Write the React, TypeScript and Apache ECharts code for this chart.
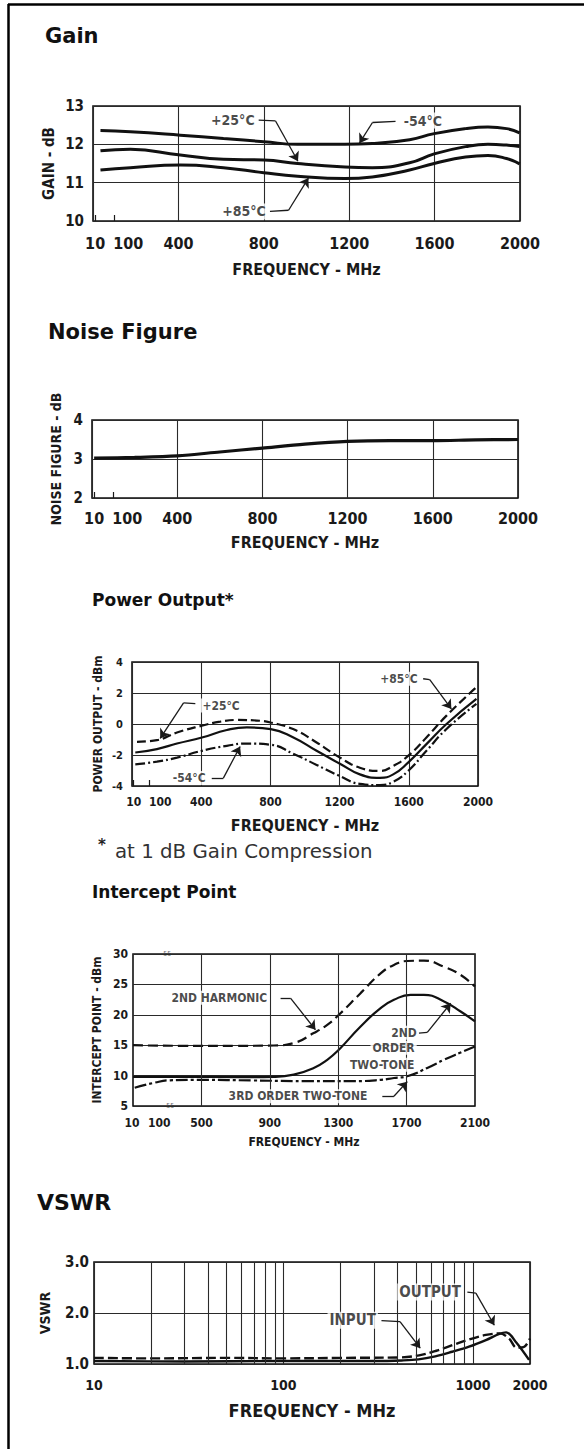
import React, { useEffect, useRef } from "react";
import * as echarts from "echarts";

const W = 584;
const H = 1449;

const FONT_COND =
  "'DejaVu Sans Condensed', 'Liberation Sans Narrow', 'Roboto Condensed', 'DejaVu Sans', sans-serif";
const FONT_TITLE = "'DejaVu Sans', 'Noto Sans', sans-serif";
const INK = "#1a1a1a";
const GRIDC = "#2a2a2a";

type Pt = [number, number];

// ---------------- Gain ----------------
const gainFreq = [35, 175, 409, 611, 800, 958, 1180, 1308, 1483, 1598, 1745, 1850, 1937, 1998];
const gainM54 = [12.36, 12.33, 12.24, 12.15, 12.07, 12.0, 12.0, 12.02, 12.12, 12.28, 12.41, 12.45, 12.41, 12.3];
const gainP25 = [11.83, 11.87, 11.72, 11.61, 11.59, 11.5, 11.41, 11.39, 11.52, 11.75, 11.94, 12.0, 11.98, 11.94];
const gainP85 = [11.33, 11.39, 11.46, 11.39, 11.26, 11.17, 11.11, 11.15, 11.33, 11.5, 11.67, 11.71, 11.63, 11.49];
const freqTicks = [10, 100, 400, 800, 1200, 1600, 2000];
const freqTickLabels = ["10", "100", "400", "800", "1200", "1600", "2000"];
const lowTicks = [10, 100];

// ---------------- Noise figure ----------------
const nfFreq = [10, 200, 400, 600, 800, 1000, 1200, 1400, 1600, 1800, 2000];
const nfVal = [3.02, 3.04, 3.08, 3.18, 3.28, 3.38, 3.45, 3.47, 3.47, 3.49, 3.5];

// ---------------- Power output ----------------
const poDashed: Pt[] = [
  [29, -1.15], [144, -1.04], [260, -0.55], [404, -0.11], [510, 0.15], [606, 0.26], [740, 0.21],
  [802, 0.1], [931, -0.33], [1067, -1.19], [1202, -2.17], [1317, -2.82], [1433, -3.03],
  [1510, -2.7], [1596, -2.06], [1702, -0.87], [1818, 0.54], [1991, 2.38],
];
const poSolid: Pt[] = [
  [19, -1.84], [144, -1.62], [260, -1.26], [404, -0.87], [548, -0.39], [664, -0.22], [802, -0.33],
  [933, -0.87], [1067, -1.73], [1202, -2.56], [1317, -3.25], [1433, -3.47], [1510, -3.25],
  [1596, -2.49], [1702, -1.3], [1818, 0.0], [1991, 1.62],
];
const poDashDot: Pt[] = [
  [19, -2.6], [144, -2.43], [260, -2.17], [404, -1.73], [548, -1.41], [664, -1.26], [802, -1.34],
  [931, -1.91], [1067, -2.64], [1202, -3.36], [1317, -3.86], [1433, -3.94], [1510, -3.73],
  [1596, -3.03], [1702, -1.73], [1818, -0.32], [1991, 1.3],
];

// ---------------- Intercept point ----------------
const ipHarm: Pt[] = [
  [100, 15], [400, 14.9], [700, 14.9], [923, 14.95], [1040, 15.36], [1157, 17.0], [1236, 18.36],
  [1304, 20.0], [1431, 23.56], [1548, 26.8], [1626, 28.2], [1704, 28.85], [1801, 28.9],
  [1919, 27.9], [2016, 26.56], [2100, 24.64],
];
const ip2nd: Pt[] = [
  [100, 9.8], [400, 9.8], [700, 9.75], [923, 9.8], [1040, 10.16], [1157, 11.26], [1236, 12.6],
  [1304, 14.26], [1431, 18.08], [1548, 21.1], [1626, 22.46], [1723, 23.28], [1801, 23.28],
  [1919, 22.2], [2016, 20.54], [2100, 18.9],
];
const ip3rd: Pt[] = [
  [110, 8.0], [221, 8.8], [318, 9.23], [500, 9.3], [800, 9.2], [1100, 9.1], [1400, 9.1],
  [1550, 9.3], [1626, 9.6], [1704, 9.9], [1821, 11.26], [1919, 12.6], [2016, 13.8], [2100, 14.8],
];
const ipTicks = [100, 500, 900, 1300, 1700, 2100];
const ipTickLabels = ["10|100", "500", "900", "1300", "1700", "2100"];
const ipGridX = [500, 900, 1300, 1700];
const ipSmallMarks = [
  { name: "55", at: [300, 30] as Pt },
  { name: "55", at: [318, 5] as Pt },
];

// ---------------- VSWR ----------------
const vswrInput: Pt[] = [
  [10, 1.12], [20, 1.11], [50, 1.12], [100, 1.11], [200, 1.12], [420, 1.13], [520, 1.17],
  [640, 1.26], [780, 1.37], [950, 1.48], [1170, 1.57], [1380, 1.6], [1550, 1.5], [1700, 1.32],
  [1850, 1.33], [2000, 1.5],
];
const vswrOutput: Pt[] = [
  [10, 1.06], [30, 1.05], [100, 1.06], [300, 1.06], [420, 1.07], [516, 1.09], [633, 1.15],
  [777, 1.24], [953, 1.34], [1170, 1.47], [1378, 1.59], [1497, 1.62], [1693, 1.42], [1977, 1.08],
];
const vswrMinorGrid = [20, 30, 40, 50, 60, 70, 80, 90, 200, 300, 400, 500, 600, 700, 800, 900];

// ---------------- Annotations (label text + anchor in data units) ----------------
const gainNotes = [
  { name: "+25°C", at: [655, 12.63] as Pt },
  { name: "-54°C", at: [1545, 12.62] as Pt },
  { name: "+85°C", at: [707, 10.25] as Pt },
];
const gainLeaders: Pt[][] = [
  [[776, 12.63], [855, 12.61], [960, 11.56]],
  [[1417, 12.6], [1309, 12.57], [1248, 12.03]],
  [[829, 10.25], [916, 10.28], [1009, 11.12]],
];
const poNotes = [
  { name: "+25°C", at: [515, 1.19] as Pt },
  { name: "-54°C", at: [331, -3.49] as Pt },
  { name: "+85°C", at: [1543, 2.92] as Pt },
];
const poLeaders: Pt[][] = [
  [[366, 1.32], [298, 1.36], [163, -0.93]],
  [[461, -3.49], [528, -3.49], [625, -1.45]],
  [[1683, 2.92], [1721, 2.86], [1846, 0.97]],
];
const ipNotes = [
  { name: "2ND HARMONIC", at: [605, 22.8] as Pt },
  { name: "2ND", at: [1685, 17.05] as Pt },
  { name: "ORDER", at: [1624, 14.6] as Pt },
  { name: "TWO-TONE", at: [1557, 11.8] as Pt },
  { name: "3RD ORDER TWO-TONE", at: [1065, 6.6] as Pt },
];
const ipLeaders: Pt[][] = [
  [[963, 22.74], [1021, 22.74], [1167, 17.54]],
  [[1772, 17.0], [1821, 17.1], [1958, 21.9]],
  [[1558, 6.6], [1626, 6.6], [1704, 9.0]],
];
const vsNotes = [
  { name: "OUTPUT", at: [594, 2.41] as Pt },
  { name: "INPUT", at: [232, 1.86] as Pt },
];
const vsLeaders: Pt[][] = [
  [[934, 2.41], [1036, 2.39], [1296, 1.76]],
  [[329, 1.85], [412, 1.83], [527, 1.31]],
];

const zip = (xs: number[], ys: number[]): Pt[] => xs.map((x, i) => [x, ys[i]]);

function labelStyle(fontSize: number) {
  return { fontFamily: FONT_COND, fontSize, fontWeight: "bold" as const, color: INK };
}

// main x axis: carries the data, draws the vertical grid lines only
function gridXAxis(gi: number, min: number, max: number, interval: number) {
  return {
    type: "value",
    gridIndex: gi,
    position: "bottom",
    min,
    max,
    interval,
    axisLine: { show: false },
    axisTick: { show: false },
    axisLabel: { show: false },
    splitLine: { show: true, lineStyle: { color: GRIDC, width: 1.1 } },
  };
}

// label x axis: same scale, prints the tick labels, small inner ticks and the name
function labelXAxis(gi: number, cfg: any) {
  const ls = labelStyle(cfg.fontSize);
  return {
    type: "value",
    gridIndex: gi,
    position: "bottom",
    offset: 0,
    min: cfg.min,
    max: cfg.max,
    axisLine: { show: false },
    axisTick: cfg.minorTicks
      ? { show: true, inside: true, length: 6, customValues: cfg.minorTicks, lineStyle: { color: INK, width: 1.2 } }
      : { show: false },
    splitLine: { show: false },
    axisLabel: {
      customValues: cfg.ticks,
      hideOverlap: false,
      margin: cfg.margin,
      ...ls,
      formatter: (v: number) => {
        const i = cfg.ticks.indexOf(v);
        const t = i >= 0 ? cfg.labels[i] : "";
        if (t.indexOf("|") >= 0) {
          const [a, b] = t.split("|");
          return `{a|${a}}{b|${b}}`;
        }
        return i === 1 && cfg.shift ? `{s|${t}}` : t;
      },
      rich: {
        s: { ...ls, padding: [0, 0, 0, (cfg.shift || 0) * 2] },
        a: { ...ls, padding: cfg.pairPad || [0, 0, 0, 0] },
        b: { ...ls },
      },
    },
    name: "FREQUENCY - MHz",
    nameLocation: "middle",
    nameGap: cfg.nameGap,
    nameMoveOverlap: false,
    nameTextStyle: { fontFamily: FONT_COND, fontSize: cfg.nameSize, fontWeight: "bold", color: INK },
  };
}

function valAxis(gi: number, cfg: any) {
  return {
    type: "value",
    gridIndex: gi,
    min: cfg.min,
    max: cfg.max,
    interval: cfg.interval,
    axisLine: { show: false },
    axisTick: { show: false },
    splitLine: { show: true, lineStyle: { color: GRIDC, width: 1.1 } },
    axisLabel: {
      ...labelStyle(cfg.fontSize),
      margin: cfg.margin,
      hideOverlap: false,
      padding: [0, 0, (cfg.lift || 0) * 2, 0],
      formatter: cfg.formatter,
    },
    name: cfg.name,
    nameLocation: "middle",
    nameGap: cfg.nameGap,
    nameMoveOverlap: false,
    nameTextStyle: { fontFamily: FONT_COND, fontSize: cfg.nameSize, fontWeight: "bold", color: INK },
  };
}

function curve(xi: number, yi: number, name: string, data: Pt[], width: number, type: any, smooth = 0.5) {
  return {
    type: "line",
    name,
    xAxisIndex: xi,
    yAxisIndex: yi,
    data,
    smooth,
    symbol: "none",
    silent: true,
    lineStyle: { color: "#111", width, type, cap: "butt" },
    z: 3,
  };
}

function notes(xi: number, yi: number, items: { name: string; at: Pt }[], leaders: Pt[][], fontSize: number) {
  return {
    type: "scatter",
    name: "notes" + yi,
    xAxisIndex: xi,
    yAxisIndex: yi,
    symbolSize: 1,
    silent: true,
    z: 6,
    itemStyle: { color: "rgba(0,0,0,0)" },
    data: items.map((n) => ({ name: n.name, value: n.at })),
    label: {
      show: true,
      position: "inside",
      formatter: "{b}",
      ...labelStyle(fontSize),
      backgroundColor: "#ffffff",
      padding: [1, 2],
    },
    markLine: {
      silent: true,
      symbol: ["none", "none"],
      label: { show: false },
      lineStyle: { color: INK, width: 1.3, type: "solid" },
      data: leaders.flatMap((seg) =>
        seg.slice(1).map((p, k) => [
          { coord: seg[k], symbol: "none" },
          { coord: p, symbol: k === seg.length - 2 ? "arrow" : "none", symbolSize: 9 },
        ])
      ),
    },
  };
}

function gridLines(values: number[]) {
  return {
    silent: true,
    symbol: ["none", "none"],
    label: { show: false },
    lineStyle: { color: GRIDC, width: 1.1, type: "solid" },
    data: values.map((v) => ({ xAxis: v })),
  };
}

const grids = [
  { left: 93, top: 106, width: 427, height: 115 },
  { left: 92, top: 420, width: 426, height: 78 },
  { left: 132, top: 662, width: 346, height: 124 },
  { left: 133, top: 954, width: 342, height: 152 },
  { left: 94, top: 1262, width: 436, height: 102 },
];

function buildOption() {
  const gridOpts = grids.map((g) => ({
    ...g,
    show: true,
    borderColor: "#111",
    borderWidth: 1.6,
    backgroundColor: "transparent",
    containLabel: false,
    outerBoundsMode: "none",
  }));

  const xAxis = [
    gridXAxis(0, 0, 2000, 400), // 0
    gridXAxis(1, 0, 2000, 400), // 1
    gridXAxis(2, 0, 2000, 400), // 2
    labelXAxis(3, { min: 100, max: 2100, ticks: ipTicks, labels: ipTickLabels, pairPad: [0, 8.5, 0, 29], fontSize: 12, margin: 11, nameGap: 30, nameSize: 12 }), // 3
    {
      type: "log",
      gridIndex: 4,
      logBase: 10,
      min: 10,
      max: 2000,
      axisLine: { show: false },
      axisTick: { show: false },
      splitLine: { show: true, lineStyle: { color: GRIDC, width: 1.1 } },
      axisLabel: {
        ...labelStyle(14),
        margin: 14,
        hideOverlap: false,
        formatter: (v: number) => String(Math.round(v)),
      },
      name: "FREQUENCY - MHz",
      nameLocation: "middle",
      nameGap: 37,
      nameMoveOverlap: false,
      nameTextStyle: { fontFamily: FONT_COND, fontSize: 18, fontWeight: "bold", color: INK },
    }, // 4
    labelXAxis(0, { min: 0, max: 2000, ticks: freqTicks, labels: freqTickLabels, shift: 14, minorTicks: lowTicks, fontSize: 16, margin: 14, nameGap: 40, nameSize: 16 }), // 5
    labelXAxis(1, { min: 0, max: 2000, ticks: freqTicks, labels: freqTickLabels, shift: 14, minorTicks: lowTicks, fontSize: 16, margin: 12, nameGap: 36, nameSize: 16 }), // 6
    labelXAxis(2, { min: 0, max: 2000, ticks: freqTicks, labels: freqTickLabels, shift: 11, minorTicks: lowTicks, fontSize: 12, margin: 10, nameGap: 31, nameSize: 16 }), // 7
  ];

  const yAxis = [
    valAxis(0, { min: 10, max: 13, interval: 1, fontSize: 15, margin: 9, lift: 7, name: "GAIN - dB", nameGap: 37, nameSize: 15 }),
    valAxis(1, { min: 2, max: 4, interval: 1, fontSize: 15, margin: 9, lift: 5, name: "NOISE FIGURE - dB", nameGap: 29, nameSize: 14 }),
    valAxis(2, { min: -4, max: 4, interval: 2, fontSize: 11, margin: 9, lift: 4, name: "POWER OUTPUT - dBm", nameGap: 28, nameSize: 12 }),
    valAxis(3, { min: 5, max: 30, interval: 5, fontSize: 12, margin: 5, lift: 5, name: "INTERCEPT POINT - dBm", nameGap: 30, nameSize: 12 }),
    valAxis(4, { min: 1, max: 3, interval: 1, fontSize: 15, margin: 5, lift: 1, name: "VSWR", nameGap: 42, nameSize: 14, formatter: (v: number) => v.toFixed(1) }),
  ];

  const ipSolid: any = curve(3, 3, "2ND ORDER TWO-TONE", ip2nd, 2.2, "solid");
  ipSolid.markLine = gridLines(ipGridX);
  const vsOut: any = curve(4, 4, "OUTPUT", vswrOutput, 2.4, "solid", 0.35);
  vsOut.markLine = gridLines(vswrMinorGrid);

  const ipMarks = {
    type: "scatter",
    name: "marks",
    xAxisIndex: 3,
    yAxisIndex: 3,
    symbolSize: 1,
    silent: true,
    z: 6,
    itemStyle: { color: "rgba(0,0,0,0)" },
    data: ipSmallMarks.map((n) => ({ name: n.name, value: n.at })),
    label: { show: true, position: "inside", formatter: "{b}", fontFamily: FONT_COND, fontSize: 7, color: "#333" },
  };

  const series = [
    curve(0, 0, "-54°C", zip(gainFreq, gainM54), 3, "solid"),
    curve(0, 0, "+25°C", zip(gainFreq, gainP25), 3, "solid"),
    curve(0, 0, "+85°C", zip(gainFreq, gainP85), 3, "solid"),
    notes(0, 0, gainNotes, gainLeaders, 14),

    curve(1, 1, "Noise Figure", zip(nfFreq, nfVal), 3.2, "solid", 0.3),

    curve(2, 2, "dashed", poDashed, 2.2, [9, 4]),
    curve(2, 2, "solid", poSolid, 2.2, "solid"),
    curve(2, 2, "dash-dot", poDashDot, 2.2, [10, 3, 2, 3]),
    notes(2, 2, poNotes, poLeaders, 12),

    curve(3, 3, "2ND HARMONIC", ipHarm, 2.2, [10, 5]),
    ipSolid,
    curve(3, 3, "3RD ORDER TWO-TONE", ip3rd, 2.2, [12, 3, 3, 3]),
    notes(3, 3, ipNotes, ipLeaders, 12),
    ipMarks,

    curve(4, 4, "INPUT", vswrInput, 2.4, [10, 4], 0.35),
    vsOut,
    notes(4, 4, vsNotes, vsLeaders, 15),
  ];

  const title = (text: string, x: number, y: number, size: number) => ({
    type: "text",
    x,
    y,
    silent: true,
    style: {
      text,
      fill: "#111",
      fontFamily: FONT_TITLE,
      fontSize: size,
      fontWeight: "bold",
      verticalAlign: "middle",
      textVerticalAlign: "middle",
    },
  });

  const graphic = [
    { type: "line", silent: true, shape: { x1: 8.5, y1: 4, x2: 8.5, y2: H }, style: { stroke: "#000", lineWidth: 2.5 } },
    { type: "line", silent: true, shape: { x1: 8, y1: 4.5, x2: W, y2: 4.5 }, style: { stroke: "#000", lineWidth: 2.5 } },
    title("Gain", 45, 36, 21),
    title("Noise Figure", 48, 332, 21),
    title("Power Output*", 92, 600, 17),
    {
      type: "text",
      x: 98,
      y: 845,
      silent: true,
      style: { text: "*", fill: "#222", fontFamily: FONT_TITLE, fontSize: 15, fontWeight: "bold", verticalAlign: "middle" },
    },
    {
      type: "text",
      x: 115,
      y: 851,
      silent: true,
      style: { text: "at 1 dB Gain Compression", fill: "#333", fontFamily: FONT_TITLE, fontSize: 19.8, verticalAlign: "middle" },
    },
    title("Intercept Point", 92, 892, 17),
    title("VSWR", 37, 1202, 22),
  ];

  return {
    animation: false,
    backgroundColor: "#ffffff",
    grid: gridOpts,
    xAxis,
    yAxis,
    series,
    graphic,
  };
}

export default function App() {
  const ref = useRef<HTMLDivElement | null>(null);
  useEffect(() => {
    document.body.style.margin = "0";
    const el = ref.current;
    if (!el) return;
    const chart = echarts.init(el, null, { renderer: "svg", width: W, height: H });
    chart.setOption(buildOption() as any);
    return () => chart.dispose();
  }, []);
  return <div ref={ref} style={{ width: W, height: H, background: "#fff" }} />;
}
